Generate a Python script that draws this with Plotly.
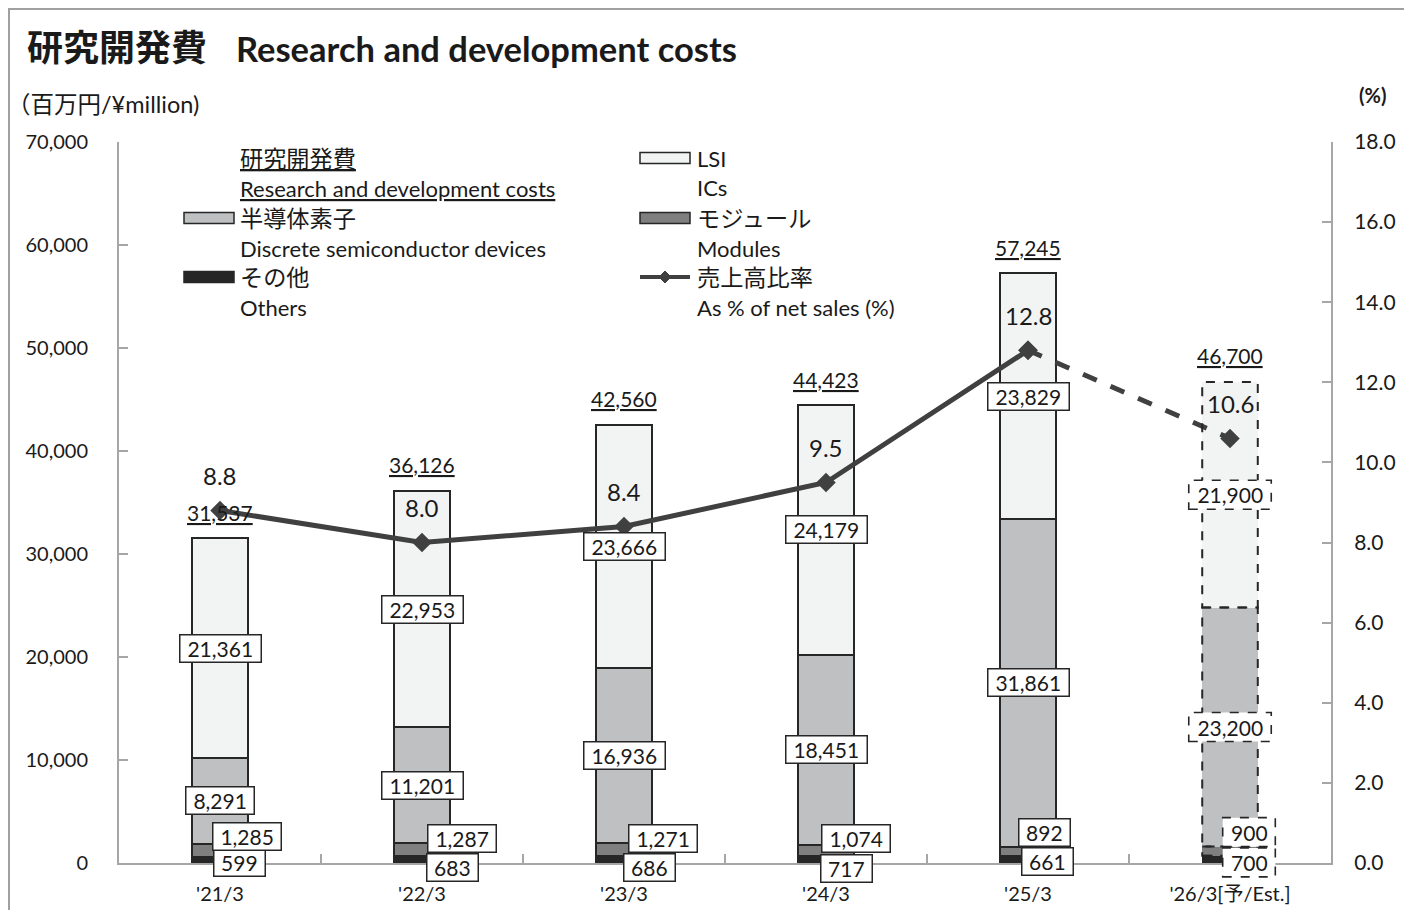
import plotly.graph_objects as go

# ---------------- data ----------------
categories = ["'21/3", "'22/3", "'23/3", "'24/3", "'25/3", "'26/3[予/Est.]"]
others = [599, 683, 686, 717, 661, 700]
modules = [1285, 1287, 1271, 1074, 892, 900]
discrete = [8291, 11201, 16936, 18451, 31861, 23200]
lsi = [21361, 22953, 23666, 24179, 23829, 21900]
totals = [31537, 36126, 42560, 44423, 57245, 46700]
ratio = [8.8, 8.0, 8.4, 9.5, 12.8, 10.6]
is_estimate = [False, False, False, False, False, True]

# ---------------- style ----------------
OFF = 8                       # page body margin
W, H = 1396, 902
L, R, T, B = 111, 73, 134, 47
PW, PH = W - L - R, H - T - B
YMAX = 70000
FONT = "Lato, 'Noto Sans CJK JP', sans-serif"
TXT = "#1a1a1a"
AX = "#a6a6a6"
C_LSI, C_DIS, C_MOD, C_OTH = "#f2f3f3", "#bfc0c2", "#7f7f7f", "#262626"
EDGE = "#262626"
LINEC = "#404040"
BAR_W = 0.275

# label pixel offsets (xshift, yshift) for the small segments
mod_shift = [(27, 14), (40, 11), (39, 11), (30, 12), (16, 19), (19, 19)]
oth_shift = [(19, -3), (30, -8), (25, -8), (20, -9), (19, -2), (19, -3)]


def PX(x):
    return (x - OFF - L) / PW


def PY(y):
    return (H - B - (y - OFF)) / PH


x = list(range(len(categories)))
fig = go.Figure()

lw = [0 if e else 2 for e in is_estimate]
for name, vals, col in [("その他", others, C_OTH), ("モジュール", modules, C_MOD),
                        ("半導体素子", discrete, C_DIS), ("LSI", lsi, C_LSI)]:
    fig.add_trace(go.Bar(x=x, y=vals, name=name, width=BAR_W,
                         marker=dict(color=col, line=dict(color=EDGE, width=lw)),
                         showlegend=False, hoverinfo="skip"))

# ratio line: solid actuals, dashed estimate
act = [i for i, e in enumerate(is_estimate) if not e]
est = [i for i, e in enumerate(is_estimate) if e]
fig.add_trace(go.Scatter(x=act, y=[ratio[i] for i in act], yaxis="y2", mode="lines+markers",
                         line=dict(color=LINEC, width=5),
                         marker=dict(symbol="diamond", size=15, color=LINEC),
                         showlegend=False, hoverinfo="skip"))
seg = [act[-1]] + est
fig.add_trace(go.Scatter(x=seg, y=[ratio[i] for i in seg], yaxis="y2", mode="lines+markers",
                         line=dict(color=LINEC, width=5, dash="dash"),
                         marker=dict(symbol="diamond", size=15, color=LINEC),
                         showlegend=False, hoverinfo="skip"))

annotations = []
bar_shapes = []
box_shapes = []
other_shapes = []


def box_width(s):
    d = sum(ch.isdigit() for ch in s)
    c = s.count(",")
    return 12.2 * d + 5.5 * c + 16


def add_box_label(i, yval, text, xs=0, ys=0, dashed=False):
    w = box_width(text)
    h = 29
    if dashed:
        # paper y-ref so the box is not clipped at the x axis
        box_shapes.append(dict(type="rect", xref="x", yref="paper", xsizemode="pixel", ysizemode="pixel",
                               xanchor=i, yanchor=yval / YMAX, x0=xs - w / 2, x1=xs + w / 2,
                               y0=ys - h / 2, y1=ys + h / 2, fillcolor="white",
                               line=dict(color=EDGE, width=1.6, dash="dash"), layer="above"))
        annotations.append(dict(x=i, y=yval, xref="x", yref="y", text=text, showarrow=False,
                                xshift=xs, yshift=ys, font=dict(family=FONT, size=21, color=TXT),
                                width=w, height=h - 2, borderpad=0))
    else:
        annotations.append(dict(x=i, y=yval, xref="x", yref="y", text=text, showarrow=False,
                                xshift=xs, yshift=ys, font=dict(family=FONT, size=21, color=TXT),
                                bgcolor="white", bordercolor=EDGE, borderwidth=1.5,
                                width=w - 3, height=h - 3, borderpad=0))


for i in x:
    b0 = 0
    b1 = others[i]
    b2 = b1 + modules[i]
    b3 = b2 + discrete[i]
    b4 = b3 + lsi[i]
    e = is_estimate[i]
    add_box_label(i, b0 + others[i] / 2, f"{others[i]:,}", *oth_shift[i], dashed=e)
    add_box_label(i, b1 + modules[i] / 2, f"{modules[i]:,}", *mod_shift[i], dashed=e)
    add_box_label(i, b2 + discrete[i] / 2, f"{discrete[i]:,}", dashed=e)
    add_box_label(i, b3 + lsi[i] / 2, f"{lsi[i]:,}", dashed=e)
    annotations.append(dict(x=i, y=b4, xref="x", yref="y", text=f"<u>{totals[i]:,}</u>",
                            showarrow=False, yshift=26, font=dict(family=FONT, size=21, color=TXT)))
    annotations.append(dict(x=i, y=ratio[i], xref="x", yref="y2", text=f"{ratio[i]:.1f}",
                            showarrow=False, yshift=35, font=dict(family=FONT, size=24, color=TXT)))
    if e:
        for lo, hi in [(b0, b1), (b1, b2), (b2, b3), (b3, b4)]:
            bar_shapes.append(dict(type="rect", xref="x", yref="y", x0=i - BAR_W / 2, x1=i + BAR_W / 2,
                                   y0=lo, y1=hi, line=dict(color=EDGE, width=2, dash="dash"),
                                   layer="above"))


# ---------------- legend (drawn) ----------------
def ptext(px, py, text, size=20, bold=False, anchor="left"):
    annotations.append(dict(x=PX(px), y=PY(py), xref="paper", yref="paper", text=text,
                            showarrow=False, xanchor=anchor, yanchor="middle",
                            font=dict(family=FONT, size=size, color=TXT,
                                      weight="bold" if bold else "normal")))


def swatch(px0, py, col):
    other_shapes.append(dict(type="rect", xref="paper", yref="paper", x0=PX(px0), x1=PX(px0 + 50),
                             y0=PY(py + 5.5), y1=PY(py - 5.5), fillcolor=col,
                             line=dict(color=EDGE, width=1.5)))


JP, EN = 23.2, 22
ptext(238, 158, "<u>研究開発費</u>", JP)
ptext(238, 189, "<u>Research and development costs</u>", EN)
swatch(640, 158, C_LSI)
ptext(695, 158, "LSI", EN)
ptext(695, 188, "ICs", EN)
swatch(184, 218, C_DIS)
ptext(238, 218, "半導体素子", JP)
ptext(238, 248, "Discrete semiconductor devices", EN)
swatch(640, 218, C_MOD)
ptext(695, 218, "モジュール", JP)
ptext(695, 248, "Modules", EN)
swatch(184, 277, C_OTH)
ptext(238, 277, "その他", JP)
ptext(238, 307, "Others", EN)
other_shapes.append(dict(type="line", xref="paper", yref="paper", x0=PX(640), x1=PX(690),
                         y0=PY(277), y1=PY(277), line=dict(color=LINEC, width=4)))
cx, cy, d = 665, 277, 6
other_shapes.append(dict(type="path", xref="paper", yref="paper",
                         path=f"M {PX(cx - d)},{PY(cy)} L {PX(cx)},{PY(cy - d)} L {PX(cx + d)},{PY(cy)} L {PX(cx)},{PY(cy + d)} Z",
                         fillcolor=LINEC, line=dict(color=LINEC, width=1)))
ptext(695, 277, "売上高比率", JP)
ptext(695, 307, "As % of net sales (%)", EN)

# titles and axis captions
ptext(25, 47, "研究開発費", size=36, bold=True)
ptext(234, 48, "Research and development costs", size=34.5, bold=True)
ptext(5, 104, "（百万円/¥million)", size=23.5)
ptext(1372, 95, "(%)", size=20, bold=True, anchor="center")

# outer frame (top & left edges of page frame)
other_shapes.append(dict(type="rect", xref="paper", yref="paper", x0=PX(9), x1=PX(1440),
                         y0=PY(960), y1=PY(9), line=dict(color="#a0a0a0", width=2), layer="below"))

fig.update_layout(
    width=W, height=H,
    margin=dict(l=L, r=R, t=T, b=B, autoexpand=False),
    paper_bgcolor="white", plot_bgcolor="white",
    barmode="stack", bargap=0,
    showlegend=False,
    font=dict(family=FONT, color=TXT),
    annotations=annotations, shapes=other_shapes + bar_shapes + box_shapes,
    xaxis=dict(range=[-0.5, 5.5], tickmode="array", tickvals=x, ticktext=categories,
               ticks="", showline=True, linecolor=AX, linewidth=2, showgrid=False, zeroline=False,
               automargin=False,
               tickfont=dict(family=FONT, size=20, color=TXT), ticklabelstandoff=12,
               minor=dict(tickmode="array", tickvals=[i + 0.5 for i in x[:-1]], ticks="inside",
                          ticklen=9, tickcolor=AX, tickwidth=2, showgrid=False)),
    yaxis=dict(range=[0, YMAX], tickmode="array", tickvals=list(range(0, YMAX + 1, 10000)),
               tickformat=",d", ticks="inside", ticklen=9, tickcolor=AX, tickwidth=2,
               showline=True, linecolor=AX, linewidth=2, showgrid=False, zeroline=False,
               automargin=False,
               tickfont=dict(family=FONT, size=20, color=TXT), ticklabelstandoff=25),
    yaxis2=dict(range=[0, 18], tickmode="array", tickvals=[v * 2 for v in range(10)],
                tickformat=".1f", overlaying="y", side="right", ticks="inside", ticklen=9,
                tickcolor=AX, tickwidth=2, showline=True, linecolor=AX, linewidth=2,
                showgrid=False, zeroline=False, automargin=False,
                tickfont=dict(family=FONT, size=21, color=TXT), ticklabelstandoff=17),
)

fig.write_html("out.html")
